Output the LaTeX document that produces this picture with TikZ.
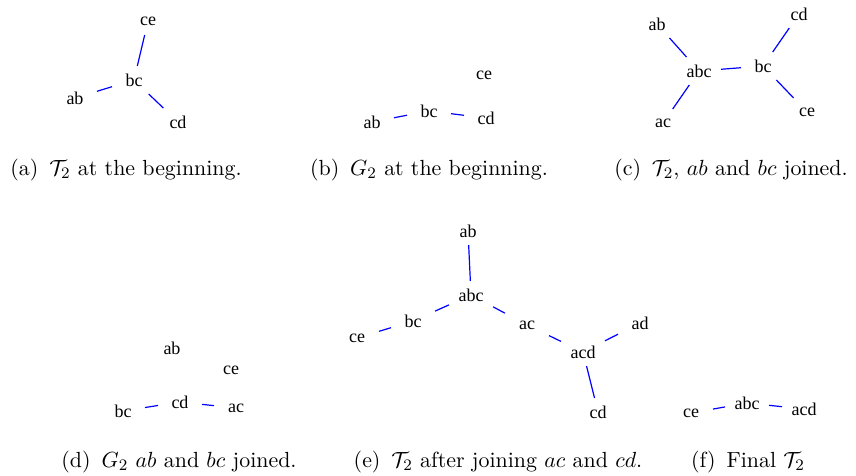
\documentclass[tikz,border=0pt]{standalone}
\usepackage{fontspec}
\newfontfamily\lblfont{Liberation Serif}
\begin{document}
\begin{tikzpicture}[x=0.5pt,y=-0.5pt,
  v/.style={rectangle,minimum width=22pt,minimum height=14pt,inner sep=0pt,outer sep=0pt,font=\lblfont\fontsize{9}{10}\selectfont},
  e/.style={blue,line width=0.6pt},
  captext/.style={anchor=base,inner sep=0pt,font=\fontsize{10.95}{13}\selectfont}]
\useasboundingbox (0,0) rectangle (856,476);
% (a)
\node[v] (a-ce) at (148,21) {ce};
\node[v] (a-bc) at (134,80) {bc};
\node[v] (a-ab) at (75,98) {ab};
\node[v] (a-cd) at (178,122) {cd};
\draw[e] (a-bc) -- (a-ce);
\draw[e] (a-bc) -- (a-ab);
\draw[e] (a-bc) -- (a-cd);
\node[captext] (capa) at (126,175) {(a)\hskip.5em$\mathcal{T}_2$ at the beginning.};
% (b)
\node[v] (b-ce) at (484,75) {ce};
\node[v] (b-bc) at (429,111) {bc};
\node[v] (b-ab) at (372,122) {ab};
\node[v] (b-cd) at (486,118) {cd};
\draw[e] (b-ab) -- (b-bc);
\draw[e] (b-bc) -- (b-cd);
\node[captext] (capb) at (429,175) {(b)\hskip.5em$G_2$ at the beginning.};
% (c)
\node[v] (c-ab) at (657,24) {ab};
\node[v] (c-abc) at (699,71) {abc};
\node[v] (c-bc) at (763,66) {bc};
\node[v] (c-cd) at (799,14) {cd};
\node[v] (c-ac) at (663,123) {ac};
\node[v] (c-ce) at (807,112) {ce};
\draw[e] (c-ab) -- (c-abc);
\draw[e] (c-abc) -- (c-ac);
\draw[e] (c-abc) -- (c-bc);
\draw[e] (c-bc) -- (c-cd);
\draw[e] (c-bc) -- (c-ce);
\node[captext] (capc) at (731,175) {(c)\hskip.5em$\mathcal{T}_2$, $ab$ and $bc$ joined.};
% (d)
\node[v] (d-ab) at (172,348) {ab};
\node[v] (d-ce) at (231,370) {ce};
\node[v] (d-cd) at (180,402) {cd};
\node[v] (d-bc) at (123,411) {bc};
\node[v] (d-ac) at (236,408) {ac};
\draw[e] (d-bc) -- (d-cd);
\draw[e] (d-cd) -- (d-ac);
\node[captext] (capd) at (179,467) {(d)\hskip.5em$G_2$ $ab$ and $bc$ joined.};
% (e)
\node[v] (e-ab) at (468,231) {ab};
\node[v] (e-abc) at (471,295) {abc};
\node[v] (e-bc) at (413,321) {bc};
\node[v] (e-ce) at (357,338) {ce};
\node[v] (e-ac) at (527,325) {ac};
\node[v] (e-acd) at (583,352) {acd};
\node[v] (e-ad) at (640,323) {ad};
\node[v] (e-cd) at (598,412) {cd};
\draw[e] (e-ab) -- (e-abc);
\draw[e] (e-abc) -- (e-bc);
\draw[e] (e-bc) -- (e-ce);
\draw[e] (e-abc) -- (e-ac);
\draw[e] (e-ac) -- (e-acd);
\draw[e] (e-acd) -- (e-ad);
\draw[e] (e-acd) -- (e-cd);
\node[captext] (cape) at (498,467) {(e)\hskip.5em$\mathcal{T}_2$ after joining $ac$ and $cd$.};
% (f)
\node[v] (f-ce) at (691,413) {ce};
\node[v] (f-abc) at (747,403) {abc};
\node[v] (f-acd) at (804,409) {acd};
\draw[e] (f-ce) -- (f-abc);
\draw[e] (f-abc) -- (f-acd);
\node[captext] (capf) at (748,467) {(f)\hskip.5em Final $\mathcal{T}_2$};
\end{tikzpicture}
\end{document}
